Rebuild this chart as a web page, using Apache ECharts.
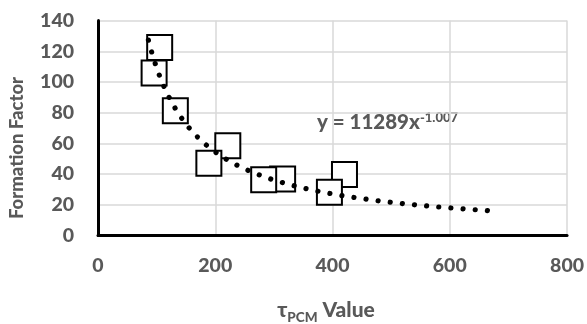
<!DOCTYPE html>
<html>
<head>
<meta charset="utf-8">
<script src="https://cdn.jsdelivr.net/npm/echarts@6/dist/echarts.min.js"></script>
<style>
  html, body { margin: 0; padding: 0; background: #ffffff; }
  #chart { width: 587px; height: 324px; }
</style>
</head>
<body>
<div id="chart"></div>
<script>
// Measured samples (drawn in this order, so later squares sit on top)
const tauValues        = [420.4, 394.7, 314.9, 282.6, 221.4, 189.1, 131.9, 105.2, 95.7];
const formationFactors = [39.8, 28.1, 36.8, 36.3, 58.4, 47.0, 81.3, 122.5, 105.8];

// Axis tick setup
const xTickMin = 0, xTickMax = 800, xTickStep = 200;
const yTickMin = 0, yTickMax = 140, yTickStep = 20;

// Power-law trendline y = a * x^b, as stated on the chart
const trendCoefficient = 11289;
const trendExponent = -1.007;
const trendStart = 86;
const trendEnd = 665;
const trendSteps = 240;

const samplePoints = tauValues.map((x, i) => [x, formationFactors[i]]);

const trendPoints = [];
for (let i = 0; i <= trendSteps; i++) {
  const x = trendStart + (trendEnd - trendStart) * i / trendSteps;
  trendPoints.push([x, trendCoefficient * Math.pow(x, trendExponent)]);
}

const FONT = 'Lato';
const WEIGHT = '900';
const TEXT_GREY = '#595959';
const DOT_SPACING = 12.3;

const chart = echarts.init(document.getElementById('chart'), null, { renderer: 'canvas' });

chart.setOption({
  animation: false,
  backgroundColor: '#ffffff',
  grid: { left: 98, right: 19, top: 20.6, bottom: 88.5, containLabel: false },
  xAxis: {
    type: 'value',
    min: xTickMin, max: xTickMax, interval: xTickStep,
    axisLine: { show: true, onZero: false, lineStyle: { color: '#000', width: 3 } },
    axisTick: { show: false },
    splitLine: { show: true, lineStyle: { color: '#d9d9d9', width: 1.5 } },
    axisLabel: { margin: 20, color: TEXT_GREY, fontFamily: FONT, fontWeight: WEIGHT, fontSize: 19.5 }
  },
  yAxis: {
    type: 'value',
    min: yTickMin, max: yTickMax, interval: yTickStep,
    axisLine: { show: true, onZero: false, lineStyle: { color: '#000', width: 3 } },
    axisTick: { show: false },
    splitLine: { show: true, lineStyle: { color: '#d9d9d9', width: 1.5 } },
    axisLabel: { margin: 24, color: TEXT_GREY, fontFamily: FONT, fontWeight: WEIGHT, fontSize: 19.5 }
  },
  series: [
    {
      type: 'scatter',
      data: samplePoints,
      symbol: 'rect',
      symbolSize: 25,
      itemStyle: { color: '#ffffff', borderColor: '#000000', borderWidth: 2, opacity: 1 },
      z: 3
    },
    {
      id: 'trend',
      type: 'line',
      data: trendPoints,
      showSymbol: false,
      smooth: false,
      clip: false,
      lineStyle: { color: '#000000', width: 5.2, type: [0.01, DOT_SPACING], cap: 'round' },
      z: 4
    }
  ],
  graphic: [
    {
      type: 'text',
      x: 17, y: 148,
      rotation: Math.PI / 2,
      style: {
        text: 'Formation Factor',
        fill: TEXT_GREY, font: WEIGHT + ' 18.5px ' + FONT,
        align: 'center', verticalAlign: 'middle'
      }
    },
    {
      type: 'text',
      x: 326, y: 310,
      style: {
        text: '{t|τ}{s|PCM}{v| Value}',
        align: 'center', verticalAlign: 'middle',
        rich: {
          t: { fill: TEXT_GREY, font: WEIGHT + ' 21px ' + FONT, verticalAlign: 'bottom' },
          s: { fill: TEXT_GREY, font: WEIGHT + ' 13.5px ' + FONT, verticalAlign: 'bottom', padding: [0, 0, -4, 0] },
          v: { fill: TEXT_GREY, font: WEIGHT + ' 21px ' + FONT, verticalAlign: 'bottom' }
        }
      }
    },
    {
      type: 'text',
      x: 317, y: 122,
      style: {
        text: '{m|y = 11289x}{p|-1.007}',
        align: 'left', verticalAlign: 'middle',
        rich: {
          m: { fill: TEXT_GREY, font: WEIGHT + ' 20.5px ' + FONT, verticalAlign: 'top' },
          p: { fill: TEXT_GREY, font: WEIGHT + ' 13px ' + FONT, verticalAlign: 'top' }
        }
      }
    }
  ]
});

// Even out the dot spacing so the dotted trendline ends on a dot
let pathLength = 0;
let prev = chart.convertToPixel({ gridIndex: 0 }, trendPoints[0]);
for (let i = 1; i < trendPoints.length; i++) {
  const p = chart.convertToPixel({ gridIndex: 0 }, trendPoints[i]);
  pathLength += Math.hypot(p[0] - prev[0], p[1] - prev[1]);
  prev = p;
}
const dotCount = Math.round(pathLength / DOT_SPACING);
const period = (pathLength - 0.5) / dotCount;
chart.setOption({ series: [{ id: 'trend', lineStyle: { type: [0.01, period - 0.01] } }] });
</script>
</body>
</html>
